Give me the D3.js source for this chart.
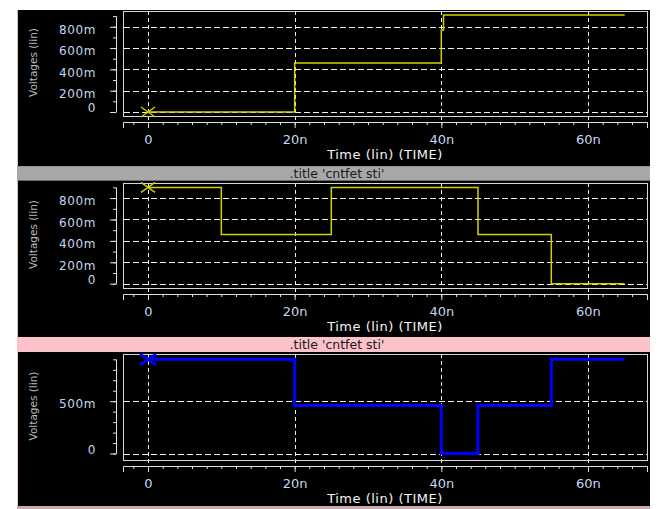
<!DOCTYPE html>
<html><head><meta charset="utf-8">
<script src="https://cdn.jsdelivr.net/npm/d3@7"></script>
<style>body{margin:0;background:#fff}svg{display:block}</style>
</head><body><svg id="c" width="664" height="509"></svg>
<script>
// ---- data ----
const timeTickValues = [0, 20, 40, 60];
const timeTickLabels = ["0", "20n", "40n", "60n"];
const voltTicksA = [0, 0.2, 0.4, 0.6, 0.8];
const voltLabelsA = ["0", "200m", "400m", "600m", "800m"];
const voltTicksB = [0, 0.5];
const voltLabelsB = ["0", "500m"];
const titleText = ".title 'cntfet sti'";
const xAxisTitle = "Time (lin) (TIME)";
const yAxisTitle = "Voltages (lin)";
// step waveforms: level holds from each time until the next
const s1Time = [0, 20, 40, 40.3, 65];
const s1Volt = [0, 0.46, 0.77, 0.91, 0.91];
const s2Time = [0, 10, 25, 45, 55, 65];
const s2Volt = [0.9, 0.46, 0.9, 0.46, 0, 0];
const s3Time = [0, 20, 40, 45, 55, 65];
const s3Volt = [0.9, 0.46, 0, 0.46, 0.9, 0.9];

// ---- layout ----
const svg = d3.select("#c");
const FONT = "DejaVu Sans, Verdana, sans-serif";
const x = d3.scaleLinear().domain([-3.41, 68.05]).range([123, 647]);

const panels = [
  {bar: null, bgTop: 10, bgBot: 166.5, fTop: 11, fBot: 116, yDom: [-0.0376, 0.948],
   ticks: voltTicksA, labels: voltLabelsA, t: s1Time, v: s1Volt,
   color: "#d2d200", lw: 1.5, mk: {w: 7, h: 5, sw: 1.4}},
  {bar: "#a8a8a8", barTop: 166.5, bgTop: 180.5, bgBot: 337, fTop: 183, fBot: 288, yDom: [-0.040, 0.941],
   ticks: voltTicksA, labels: voltLabelsA, t: s2Time, v: s2Volt,
   color: "#d2d200", lw: 1.5, mk: {w: 7, h: 5, sw: 1.4}},
  {bar: "#fcc2ca", barTop: 337, bgTop: 352, bgBot: 506, fTop: 354, fBot: 460, yDom: [-0.062, 0.951],
   ticks: voltTicksB, labels: voltLabelsB, t: s3Time, v: s3Volt,
   color: "#0000ff", lw: 3, mk: {w: 8, h: 5.5, sw: 2.6}}
];

panels.forEach(p => {
  // title bar
  if (p.bar) {
    svg.append("rect").attr("x", 17).attr("y", p.barTop).attr("width", 633).attr("height", p.bgTop - p.barTop)
      .attr("fill", p.bar);
    svg.append("text").attr("x", 337).attr("y", (p.barTop + p.bgTop) / 2 + 4.5)
      .attr("text-anchor", "middle").attr("font-family", FONT).attr("font-size", 12.5)
      .attr("fill", "#1a1a1a").text(titleText);
  }
  // black background
  svg.append("rect").attr("x", 17).attr("y", p.bgTop).attr("width", 633).attr("height", p.bgBot - p.bgTop)
    .attr("fill", "#000");
  svg.append("line").attr("x1", 17.5).attr("x2", 17.5).attr("y1", p.bgTop).attr("y2", p.bgBot)
    .attr("stroke", p.bar === "#fcc2ca" ? "#e8c8cc" : "#c8c8c8");

  const y = d3.scaleLinear().domain(p.yDom).range([p.fBot, p.fTop]);
  const g = svg.append("g");

  // grid
  const minorY = d3.range(0, 0.9001, 0.1);
  g.selectAll(null).data(p.ticks).join("line")
    .attr("x1", 124).attr("x2", 647)
    .attr("y1", d => Math.round(y(d)) + 0.5).attr("y2", d => Math.round(y(d)) + 0.5)
    .attr("stroke", "#f0f0f0").attr("stroke-dasharray", "6,3");
  g.selectAll(null).data(timeTickValues).join("line")
    .attr("x1", d => Math.round(x(d)) + 0.5).attr("x2", d => Math.round(x(d)) + 0.5)
    .attr("y1", p.fTop).attr("y2", p.fBot + 6)
    .attr("stroke", "#f0f0f0").attr("stroke-dasharray", "4,3");

  // frame
  g.append("rect").attr("x", 123.5).attr("y", p.fTop + 0.5).attr("width", 524).attr("height", p.fBot - p.fTop)
    .attr("fill", "none").attr("stroke", "#d8d8d8");

  // x ruler
  const rulerY = p.fBot + 6;
  const xMinor = svg.append("g").attr("transform", `translate(0,${rulerY})`)
    .call(d3.axisBottom(x).tickValues(d3.range(-2, 67, 2)).tickSize(3).tickSizeOuter(6).tickFormat(""));
  const xMajor = svg.append("g").attr("transform", `translate(0,${rulerY})`)
    .call(d3.axisBottom(x).tickValues(timeTickValues).tickSize(6).tickSizeOuter(0).tickPadding(6.5)
      .tickFormat((d, i) => timeTickLabels[i]));
  xMajor.select(".domain").remove();
  [xMinor, xMajor].forEach(a => {
    a.selectAll("path,line").attr("stroke", "#e0e0e0");
    a.selectAll("text").attr("fill", "#c4d6ee").attr("font-family", FONT)
      .attr("font-size", 13);
  });

  // y ruler
  const yAxisG = svg.append("g").attr("transform", "translate(116,0)");
  const yMinor = yAxisG.append("g")
    .call(d3.axisLeft(y).tickValues(minorY).tickSize(3).tickSizeOuter(0).tickFormat(""));
  yMinor.select(".domain").attr("d", `M0.5,${y(0) + 0.5}V${y(0.9)}`);
  const yMajor = yAxisG.append("g")
    .call(d3.axisLeft(y).tickValues(p.ticks).tickSize(6).tickPadding(14)
      .tickFormat((d, i) => p.labels[i]));
  yMajor.select(".domain").remove();
  yAxisG.selectAll("path,line").attr("stroke", "#e0e0e0");
  yMajor.selectAll("text").attr("fill", "#c4d6ee").attr("font-family", FONT)
    .attr("font-size", 12).attr("letter-spacing", 0.6)
    .attr("dy", d => d === 0 ? -0.4 : 6.7);

  // axis titles
  svg.append("text").attr("x", 385).attr("y", rulerY + 37)
    .attr("text-anchor", "middle").attr("font-family", FONT).attr("font-size", 13)
    .attr("letter-spacing", 0.5).attr("fill", "#f4f4f4").text(xAxisTitle);
  const cy = (p.fTop + p.fBot) / 2 - 1;
  svg.append("text").attr("transform", `translate(37,${cy}) rotate(-90)`)
    .attr("text-anchor", "middle").attr("font-family", FONT).attr("font-size", 10.5)
    .attr("fill", "#b8b8b8").text(yAxisTitle);

  // waveform
  const pts = p.t.map((t, i) => [t, p.v[i]]);
  const line = d3.line().x(d => x(d[0])).y(d => y(d[1])).curve(d3.curveStepAfter);
  svg.append("path").datum(pts).attr("d", line).attr("fill", "none")
    .attr("stroke", p.color).attr("stroke-width", p.lw);

  // start marker (X)
  const mx = x(pts[0][0]), my = y(pts[0][1]);
  svg.append("path")
    .attr("d", `M${mx - p.mk.w},${my - p.mk.h}L${mx + p.mk.w},${my + p.mk.h}M${mx - p.mk.w},${my + p.mk.h}L${mx + p.mk.w},${my - p.mk.h}`)
    .attr("stroke", p.color).attr("stroke-width", p.mk.sw).attr("fill", "none");
});

// bottom border of the last window
svg.append("rect").attr("x", 17).attr("y", 506).attr("width", 633).attr("height", 3).attr("fill", "#caa8ae");
</script>
</body></html>
